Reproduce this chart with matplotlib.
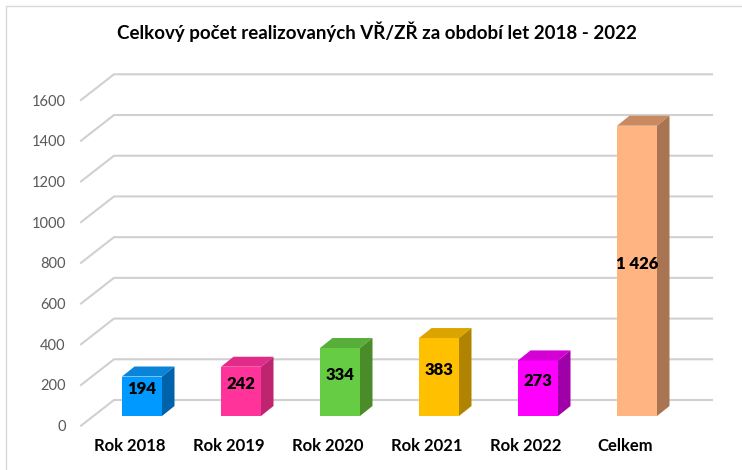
"""
Celkový počet realizovaných VŘ/ZŘ 2018-2022 as an Excel-style 3D column chart.
The 3D look is faked: front faces via ax.bar, tops/sides as oblique polygons.
"""
import matplotlib
matplotlib.use("Agg")
import matplotlib.pyplot as plt
from matplotlib.patches import Polygon
from matplotlib.lines import Line2D

plt.rcParams["font.family"] = ["Lato", "DejaVu Sans"]

# --- data ---------------------------------------------------------------
categories = ["Rok 2018", "Rok 2019", "Rok 2020", "Rok 2021", "Rok 2022", "Celkem"]
values = [194, 242, 334, 383, 273, 1426]
value_labels = ["194", "242", "334", "383", "273", "1 426"]
yticks = [0, 200, 400, 600, 800, 1000, 1200, 1400, 1600]

front_colors = ["#0099FF", "#FF3399", "#66CC44", "#FFC000", "#FF00FF", "#FFB482"]
top_colors = ["#0A84D8", "#E02C88", "#57AE38", "#DCA400", "#D400D4", "#C98A62"]
side_colors = ["#0062AA", "#BF2470", "#4A8C2A", "#B08400", "#A000A8", "#A87452"]

# --- geometry (pixels -> data units) -------------------------------------
W, H, DPI = 742, 470, 100
PX_CAT = 99.0            # pixels per category step
PX_VAL = 325.7 / 1600    # pixels per value unit
LEFT_PX, RIGHT_PX = 81, 679       # front plane, left/right
FLOOR_PX = 425.7                  # front plane, y of value 0 (from top)
CAT0_PX = 130                     # front-plane x of first category

WALL = (33 / PX_CAT, 25.7 / PX_VAL)     # depth vector to the back wall
FRONT = (12 / PX_CAT, 9.7 / PX_VAL)     # bar front face offset
DEPTH = (12.5 / PX_CAT, 10 / PX_VAL)    # bar depth
BAR_W = 40 / PX_CAT

fig = plt.figure(figsize=(W / DPI, H / DPI), dpi=DPI)
ax = fig.add_axes([LEFT_PX / W, (H - FLOOR_PX) / H,
                   (RIGHT_PX - LEFT_PX) / W, 1600 * PX_VAL / H])
x0 = (LEFT_PX - CAT0_PX) / PX_CAT
x1 = (RIGHT_PX - CAT0_PX) / PX_CAT
ax.set_xlim(x0, x1)
ax.set_ylim(0, 1600)
for s in ax.spines.values():
    s.set_visible(False)

# side wall diagonals + back wall gridlines
for v in yticks:
    ax.plot([x0, x0 + WALL[0], x1 + WALL[0]], [v, v + WALL[1], v + WALL[1]],
            color="#d0d0d0", lw=1.5, clip_on=False, zorder=1,
            solid_joinstyle="miter")

# bars
xs = range(len(values))
fx = [x + FRONT[0] for x in xs]
ax.bar(fx, values, bottom=FRONT[1], width=BAR_W, color=front_colors,
       zorder=3, clip_on=False)
for x, v, tc, sc, lab in zip(fx, values, top_colors, side_colors, value_labels):
    l, r = x - BAR_W / 2, x + BAR_W / 2
    b, t = FRONT[1], FRONT[1] + v
    dx, dy = DEPTH
    ax.add_patch(Polygon([(l, t), (r, t), (r + dx, t + dy), (l + dx, t + dy)],
                         closed=True, fc=tc, ec="none", zorder=3, clip_on=False))
    ax.add_patch(Polygon([(r, b), (r + dx, b + dy), (r + dx, t + dy), (r, t)],
                         closed=True, fc=sc, ec="none", zorder=3, clip_on=False))
    ax.annotate(lab, (x, b + v / 2), xytext=(0, 5), textcoords="offset points",
                ha="center", va="center", fontsize=12, fontweight="heavy",
                color="black", zorder=4)

ax.set_yticks(yticks)
ax.set_yticklabels([str(v) for v in yticks], fontsize=10.5, color="#595959")
ax.set_xticks(list(xs))
ax.set_xticklabels(categories, fontsize=12, fontweight="bold", color="black")
ax.tick_params(axis="y", length=0, pad=11)
ax.tick_params(axis="x", length=0, pad=9)

fig.suptitle("Celkový počet realizovaných VŘ/ZŘ za období let 2018 - 2022",
             x=377 / W, y=1 - 22 / H, fontsize=13.5, fontweight="bold")

# chart-area border (only top and left edges are inside the image)
fig.add_artist(Line2D([6 / W, 6 / W, 1.0], [0.0, 1 - 6 / H, 1 - 6 / H],
                      color="#d9d9d9", lw=1.0))

fig.savefig("out.png", dpi=DPI)
